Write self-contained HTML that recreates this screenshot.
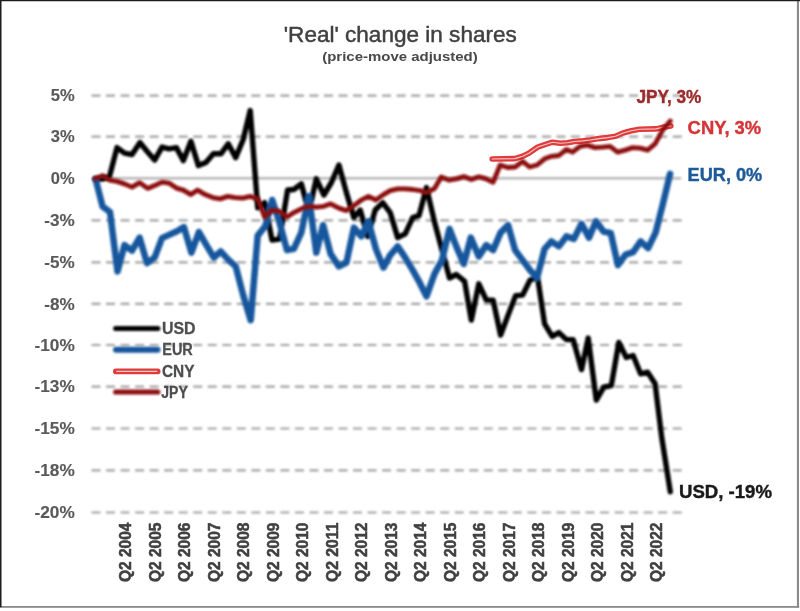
<!DOCTYPE html>
<html><head><meta charset="utf-8"><title>'Real' change in shares</title>
<style>
html,body{margin:0;padding:0;background:#fff;}
body{width:800px;height:611px;overflow:hidden;font-family:"Liberation Sans",sans-serif;}
svg{display:block;font-family:"Liberation Sans",sans-serif;}
</style></head><body>
<svg width="800" height="611" viewBox="0 0 800 611">
<defs><filter id="b" filterUnits="userSpaceOnUse" x="-10" y="-10" width="820" height="631"><feGaussianBlur stdDeviation="0.85"/></filter><filter id="c" filterUnits="userSpaceOnUse" x="-10" y="-10" width="820" height="631"><feGaussianBlur stdDeviation="0.5"/></filter><filter id="f" filterUnits="userSpaceOnUse" x="-10" y="-10" width="820" height="631"><feGaussianBlur stdDeviation="0.35"/></filter><filter id="t" filterUnits="userSpaceOnUse" x="-10" y="-10" width="820" height="631"><feGaussianBlur stdDeviation="0.6"/></filter></defs>
<rect x="0" y="0" width="800" height="611" fill="#ffffff"/>
<g filter="url(#f)">
<!-- frame -->
<rect x="796.9" y="0.5" width="2.1" height="607.2" fill="#8a8a8a"/>
<rect x="0" y="606" width="799.2" height="1.8" fill="#8a8a8a"/>
<rect x="-5" y="-5" width="810" height="6.25" fill="#1c1a1a"/>
<rect x="-5" y="-5" width="6.5" height="612.2" fill="#1c1a1a"/>
</g>
<g filter="url(#t)">
<!-- titles -->
<text x="400.3" y="41.6" text-anchor="middle" font-size="21.5" fill="#404040" stroke="#404040" stroke-width="0.45" textLength="233" lengthAdjust="spacingAndGlyphs">'Real' change in shares</text>
<text x="400" y="61.2" text-anchor="middle" font-size="12.3" font-weight="bold" fill="#484848" textLength="155.5" lengthAdjust="spacingAndGlyphs">(price-move adjusted)</text>
</g>
<g filter="url(#b)">
<!-- grid -->
<line x1="91.5" y1="95.6" x2="682" y2="95.6" stroke="#a0a0a0" stroke-width="2.2" stroke-dasharray="9.0 5.53"/>
<line x1="91.5" y1="136.6" x2="682" y2="136.6" stroke="#a0a0a0" stroke-width="2.2" stroke-dasharray="9.0 5.53"/>
<line x1="93" y1="178.3" x2="681" y2="178.3" stroke="#b6b6b6" stroke-width="2.4"/>
<line x1="91.5" y1="220.3" x2="682" y2="220.3" stroke="#a0a0a0" stroke-width="2.2" stroke-dasharray="9.0 5.53"/>
<line x1="91.5" y1="262.3" x2="682" y2="262.3" stroke="#a0a0a0" stroke-width="2.2" stroke-dasharray="9.0 5.53"/>
<line x1="91.5" y1="303.8" x2="682" y2="303.8" stroke="#a0a0a0" stroke-width="2.2" stroke-dasharray="9.0 5.53"/>
<line x1="91.5" y1="345.0" x2="682" y2="345.0" stroke="#a0a0a0" stroke-width="2.2" stroke-dasharray="9.0 5.53"/>
<line x1="91.5" y1="386.6" x2="682" y2="386.6" stroke="#a0a0a0" stroke-width="2.2" stroke-dasharray="9.0 5.53"/>
<line x1="91.5" y1="428.5" x2="682" y2="428.5" stroke="#a0a0a0" stroke-width="2.2" stroke-dasharray="9.0 5.53"/>
<line x1="91.5" y1="470.4" x2="682" y2="470.4" stroke="#a0a0a0" stroke-width="2.2" stroke-dasharray="9.0 5.53"/>
<line x1="91.5" y1="512.5" x2="682" y2="512.5" stroke="#a0a0a0" stroke-width="2.2" stroke-dasharray="9.0 5.53"/>

</g>
<g filter="url(#t)">
<!-- y labels -->
<text x="50.8" y="101.4" font-size="16.3" font-weight="bold" fill="#5a5a5a" stroke="#5a5a5a" stroke-width="0.15" textLength="23.9" lengthAdjust="spacingAndGlyphs">5%</text>
<text x="50.8" y="142.4" font-size="16.3" font-weight="bold" fill="#5a5a5a" stroke="#5a5a5a" stroke-width="0.15" textLength="23.9" lengthAdjust="spacingAndGlyphs">3%</text>
<text x="50.8" y="184.2" font-size="16.3" font-weight="bold" fill="#5a5a5a" stroke="#5a5a5a" stroke-width="0.15" textLength="23.9" lengthAdjust="spacingAndGlyphs">0%</text>
<text x="44.3" y="226.1" font-size="16.3" font-weight="bold" fill="#5a5a5a" stroke="#5a5a5a" stroke-width="0.15" textLength="30.4" lengthAdjust="spacingAndGlyphs">-3%</text>
<text x="44.3" y="268.1" font-size="16.3" font-weight="bold" fill="#5a5a5a" stroke="#5a5a5a" stroke-width="0.15" textLength="30.4" lengthAdjust="spacingAndGlyphs">-5%</text>
<text x="44.3" y="309.6" font-size="16.3" font-weight="bold" fill="#5a5a5a" stroke="#5a5a5a" stroke-width="0.15" textLength="30.4" lengthAdjust="spacingAndGlyphs">-8%</text>
<text x="34.5" y="350.8" font-size="16.3" font-weight="bold" fill="#5a5a5a" stroke="#5a5a5a" stroke-width="0.15" textLength="40.2" lengthAdjust="spacingAndGlyphs">-10%</text>
<text x="34.5" y="392.4" font-size="16.3" font-weight="bold" fill="#5a5a5a" stroke="#5a5a5a" stroke-width="0.15" textLength="40.2" lengthAdjust="spacingAndGlyphs">-13%</text>
<text x="34.5" y="434.3" font-size="16.3" font-weight="bold" fill="#5a5a5a" stroke="#5a5a5a" stroke-width="0.15" textLength="40.2" lengthAdjust="spacingAndGlyphs">-15%</text>
<text x="34.5" y="476.2" font-size="16.3" font-weight="bold" fill="#5a5a5a" stroke="#5a5a5a" stroke-width="0.15" textLength="40.2" lengthAdjust="spacingAndGlyphs">-18%</text>
<text x="34.5" y="518.3" font-size="16.3" font-weight="bold" fill="#5a5a5a" stroke="#5a5a5a" stroke-width="0.15" textLength="40.2" lengthAdjust="spacingAndGlyphs">-20%</text>

<!-- x labels -->
<text transform="translate(131.2,582) rotate(-90)" font-size="16.4" font-weight="bold" fill="#404040" stroke="#404040" stroke-width="0.55" textLength="59.5" lengthAdjust="spacingAndGlyphs">Q2 2004</text>
<text transform="translate(160.7,582) rotate(-90)" font-size="16.4" font-weight="bold" fill="#404040" stroke="#404040" stroke-width="0.55" textLength="59.5" lengthAdjust="spacingAndGlyphs">Q2 2005</text>
<text transform="translate(190.2,582) rotate(-90)" font-size="16.4" font-weight="bold" fill="#404040" stroke="#404040" stroke-width="0.55" textLength="59.5" lengthAdjust="spacingAndGlyphs">Q2 2006</text>
<text transform="translate(219.7,582) rotate(-90)" font-size="16.4" font-weight="bold" fill="#404040" stroke="#404040" stroke-width="0.55" textLength="59.5" lengthAdjust="spacingAndGlyphs">Q2 2007</text>
<text transform="translate(249.2,582) rotate(-90)" font-size="16.4" font-weight="bold" fill="#404040" stroke="#404040" stroke-width="0.55" textLength="59.5" lengthAdjust="spacingAndGlyphs">Q2 2008</text>
<text transform="translate(278.7,582) rotate(-90)" font-size="16.4" font-weight="bold" fill="#404040" stroke="#404040" stroke-width="0.55" textLength="59.5" lengthAdjust="spacingAndGlyphs">Q2 2009</text>
<text transform="translate(308.2,582) rotate(-90)" font-size="16.4" font-weight="bold" fill="#404040" stroke="#404040" stroke-width="0.55" textLength="59.5" lengthAdjust="spacingAndGlyphs">Q2 2010</text>
<text transform="translate(337.7,582) rotate(-90)" font-size="16.4" font-weight="bold" fill="#404040" stroke="#404040" stroke-width="0.55" textLength="59.5" lengthAdjust="spacingAndGlyphs">Q2 2011</text>
<text transform="translate(367.2,582) rotate(-90)" font-size="16.4" font-weight="bold" fill="#404040" stroke="#404040" stroke-width="0.55" textLength="59.5" lengthAdjust="spacingAndGlyphs">Q2 2012</text>
<text transform="translate(396.7,582) rotate(-90)" font-size="16.4" font-weight="bold" fill="#404040" stroke="#404040" stroke-width="0.55" textLength="59.5" lengthAdjust="spacingAndGlyphs">Q2 2013</text>
<text transform="translate(426.2,582) rotate(-90)" font-size="16.4" font-weight="bold" fill="#404040" stroke="#404040" stroke-width="0.55" textLength="59.5" lengthAdjust="spacingAndGlyphs">Q2 2014</text>
<text transform="translate(455.7,582) rotate(-90)" font-size="16.4" font-weight="bold" fill="#404040" stroke="#404040" stroke-width="0.55" textLength="59.5" lengthAdjust="spacingAndGlyphs">Q2 2015</text>
<text transform="translate(485.2,582) rotate(-90)" font-size="16.4" font-weight="bold" fill="#404040" stroke="#404040" stroke-width="0.55" textLength="59.5" lengthAdjust="spacingAndGlyphs">Q2 2016</text>
<text transform="translate(514.7,582) rotate(-90)" font-size="16.4" font-weight="bold" fill="#404040" stroke="#404040" stroke-width="0.55" textLength="59.5" lengthAdjust="spacingAndGlyphs">Q2 2017</text>
<text transform="translate(544.2,582) rotate(-90)" font-size="16.4" font-weight="bold" fill="#404040" stroke="#404040" stroke-width="0.55" textLength="59.5" lengthAdjust="spacingAndGlyphs">Q2 2018</text>
<text transform="translate(573.7,582) rotate(-90)" font-size="16.4" font-weight="bold" fill="#404040" stroke="#404040" stroke-width="0.55" textLength="59.5" lengthAdjust="spacingAndGlyphs">Q2 2019</text>
<text transform="translate(603.2,582) rotate(-90)" font-size="16.4" font-weight="bold" fill="#404040" stroke="#404040" stroke-width="0.55" textLength="59.5" lengthAdjust="spacingAndGlyphs">Q2 2020</text>
<text transform="translate(632.7,582) rotate(-90)" font-size="16.4" font-weight="bold" fill="#404040" stroke="#404040" stroke-width="0.55" textLength="59.5" lengthAdjust="spacingAndGlyphs">Q2 2021</text>
<text transform="translate(662.2,582) rotate(-90)" font-size="16.4" font-weight="bold" fill="#404040" stroke="#404040" stroke-width="0.55" textLength="59.5" lengthAdjust="spacingAndGlyphs">Q2 2022</text>

</g>
<g filter="url(#b)">
<!-- legend -->
<g stroke-linecap="round" fill="none">
<line x1="115.6" y1="328.6" x2="157.9" y2="328.6" stroke="#000" stroke-width="5"/>
<line x1="116" y1="349.7" x2="157.5" y2="349.7" stroke="#17579d" stroke-width="6"/>
<line x1="115.7" y1="392" x2="157.8" y2="392" stroke="#8c0c10" stroke-width="5.2"/>
</g>
</g>
<g filter="url(#c)" stroke-linecap="round" fill="none">
<line x1="115.8" y1="371.4" x2="157.7" y2="371.4" stroke="#df3c3c" stroke-width="5.6"/>
<line x1="116.8" y1="371.4" x2="156.7" y2="371.4" stroke="#fac8c8" stroke-width="1.2"/>
</g>
<g filter="url(#t)">
<g font-size="16" font-weight="bold" fill="#4e4e4e" stroke="#4e4e4e" stroke-width="0.3">
<text x="162" y="334.4" textLength="33.6" lengthAdjust="spacingAndGlyphs">USD</text>
<text x="162.3" y="355.4" textLength="30.5" lengthAdjust="spacingAndGlyphs">EUR</text>
<text x="162" y="377.2" textLength="32.5" lengthAdjust="spacingAndGlyphs">CNY</text>
<text x="161.3" y="398.4" textLength="26.5" lengthAdjust="spacingAndGlyphs">JPY</text>
</g>
</g>
<g filter="url(#b)">
<!-- series -->
<g fill="none" stroke-linejoin="round" stroke-linecap="round">
<polyline points="95.0,178.9 102.5,179.0 109.5,176.4 117.0,147.6 124.5,153.1 132.0,154.6 140.0,142.6 147.0,151.3 154.6,160.1 162.0,147.1 168.9,148.8 176.4,147.6 183.4,160.6 190.9,141.3 198.4,165.6 205.9,162.6 213.4,153.8 220.9,153.8 228.2,143.8 235.7,157.6 243.2,139.5 250.2,110.5 257.7,207.7 264.7,202.7 272.0,240.1 279.5,239.0 287.6,190.0 293.8,189.5 301.3,183.8 308.8,212.0 316.3,178.8 323.9,195.0 331.4,182.5 338.9,165.0 346.4,192.6 353.9,217.6 360.2,210.0 367.7,236.4 375.2,210.0 382.7,202.6 390.2,212.6 397.7,237.6 405.2,233.9 412.7,217.6 419.0,215.6 426.5,187.5 434.5,222.0 442.0,250.0 449.5,278.0 456.3,274.5 464.6,281.3 471.3,320.1 478.8,283.8 486.3,300.1 493.1,300.1 500.6,335.1 508.1,315.1 515.6,295.6 522.6,295.1 530.1,280.0 537.6,277.5 544.6,323.8 552.2,336.4 558.9,332.6 566.4,339.6 573.2,339.6 581.5,369.6 588.2,338.1 596.3,400.1 603.8,387.1 611.3,385.6 618.8,342.5 626.3,357.5 633.1,355.5 640.6,373.8 647.6,372.1 655.1,383.8 661.8,438.0 670.3,491.8" stroke="#000000" stroke-width="5.4"/>
<polyline points="95.5,178.8 102.5,206.3 110.0,212.0 117.5,271.4 124.5,245.1 132.0,250.6 139.6,237.6 147.0,263.1 154.6,257.6 162.0,238.1 169.6,234.6 177.0,231.3 183.9,227.1 191.4,252.6 198.9,232.1 206.4,245.1 213.9,257.6 220.7,251.4 228.2,259.6 235.7,266.4 243.2,295.2 250.7,320.2 257.7,235.6 265.2,226.3 272.2,200.0 279.5,222.6 287.0,250.1 293.8,248.9 301.3,232.6 308.8,196.3 316.3,252.6 323.1,225.1 330.6,253.9 338.9,266.4 346.4,262.6 353.9,227.6 361.4,236.4 368.4,221.3 375.9,248.9 383.4,267.6 390.2,255.1 397.7,246.4 405.2,257.6 412.7,270.1 419.7,282.7 426.5,296.4 434.5,273.9 442.0,260.1 449.5,228.8 456.3,246.4 463.8,263.9 470.8,237.6 478.8,256.4 486.3,245.1 493.1,250.1 500.6,232.6 508.1,225.1 515.1,250.1 522.6,260.1 530.1,270.2 537.1,277.7 544.6,248.9 551.4,241.4 558.9,246.4 566.4,236.4 573.9,238.9 581.5,223.8 589.0,237.6 596.0,221.3 603.5,231.5 610.8,233.2 617.9,265.1 625.6,254.6 633.1,252.1 640.6,241.4 648.1,248.1 655.6,232.6 662.6,205.0 670.1,173.8" stroke="#17579d" stroke-width="6.5"/>
</g>
</g>
<g fill="none" stroke-linejoin="round" stroke-linecap="round" filter="url(#c)">
<polyline points="492.2,159.0 514.8,158.6 522.7,156.3 528.8,153.2 537.6,147.1 545.5,144.4 552.5,142.2 560.3,143.3 567.4,142.7 574.4,141.5 583.1,140.9 590.1,140.0 598.9,138.6 607.7,137.6 615.5,136.3 623.0,133.0 631.3,130.8 639.5,129.3 656.0,128.9 664.3,127.0 670.9,126.0" stroke="#df3c3c" stroke-width="5.6"/>
<polyline points="492.2,159.0 514.8,158.6 522.7,156.3 528.8,153.2 537.6,147.1 545.5,144.4 552.5,142.2 560.3,143.3 567.4,142.7 574.4,141.5 583.1,140.9 590.1,140.0 598.9,138.6 607.7,137.6 615.5,136.3 623.0,133.0 631.3,130.8 639.5,129.3 656.0,128.9 664.3,127.0 670.9,126.0" stroke="#fac8c8" stroke-width="1.1"/>
</g>
<g filter="url(#b)">
<g fill="none" stroke-linejoin="round" stroke-linecap="round">
<polyline points="95.0,178.9 102.5,175.6 109.5,180.1 117.0,181.4 124.5,183.9 132.0,187.1 139.6,182.6 147.6,188.4 154.6,185.6 162.0,182.1 168.9,183.1 176.4,188.1 183.4,190.1 190.9,194.6 197.6,190.1 205.2,194.6 212.7,197.6 220.2,198.9 227.7,196.4 235.2,197.6 242.7,198.1 250.2,196.4 257.7,198.9 264.7,217.2 271.5,210.2 279.5,211.3 287.0,217.1 293.8,212.6 301.3,208.8 308.8,206.3 316.3,207.1 323.9,206.3 330.6,203.8 338.9,208.1 346.4,210.6 353.9,205.6 361.4,200.0 368.4,196.3 375.9,200.0 383.4,194.6 390.2,190.6 397.7,188.8 405.2,188.8 412.7,189.5 420.2,190.6 426.5,192.6 434.5,188.5 441.3,177.0 448.8,180.1 456.3,178.9 463.8,176.6 471.3,179.5 478.8,176.8 485.6,178.6 493.1,182.3 500.1,165.0 507.6,167.5 515.1,167.0 522.6,161.3 529.6,167.0 537.1,165.0 544.6,158.8 551.4,156.3 558.9,155.5 566.4,149.4 572.5,152.1 580.0,146.3 587.5,145.1 595.0,147.6 602.6,147.1 610.1,146.3 617.6,152.1 625.1,150.1 632.6,147.6 640.1,148.1 647.6,150.1 655.1,143.8 662.6,130.1 670.3,121.0" stroke="#8c0c10" stroke-width="4.8"/>
</g>
</g>
<g filter="url(#t)">
<!-- data labels -->
<g font-weight="bold" stroke-width="0.4">
<text x="636.4" y="103.1" font-size="18" fill="#9c2a2c" stroke="#9c2a2c" textLength="65" lengthAdjust="spacingAndGlyphs">JPY, 3%</text>
<text x="687.6" y="134.4" font-size="18.3" fill="#d63438" stroke="#d63438" textLength="73.6" lengthAdjust="spacingAndGlyphs">CNY, 3%</text>
<text x="687.6" y="181.4" font-size="17.6" fill="#1d5a98" stroke="#1d5a98" textLength="74.6" lengthAdjust="spacingAndGlyphs">EUR, 0%</text>
<text x="679" y="498.3" font-size="17.6" fill="#1a1a1a" stroke="#1a1a1a" textLength="93" lengthAdjust="spacingAndGlyphs">USD, -19%</text>
</g>
</g>
</svg>
</body></html>
